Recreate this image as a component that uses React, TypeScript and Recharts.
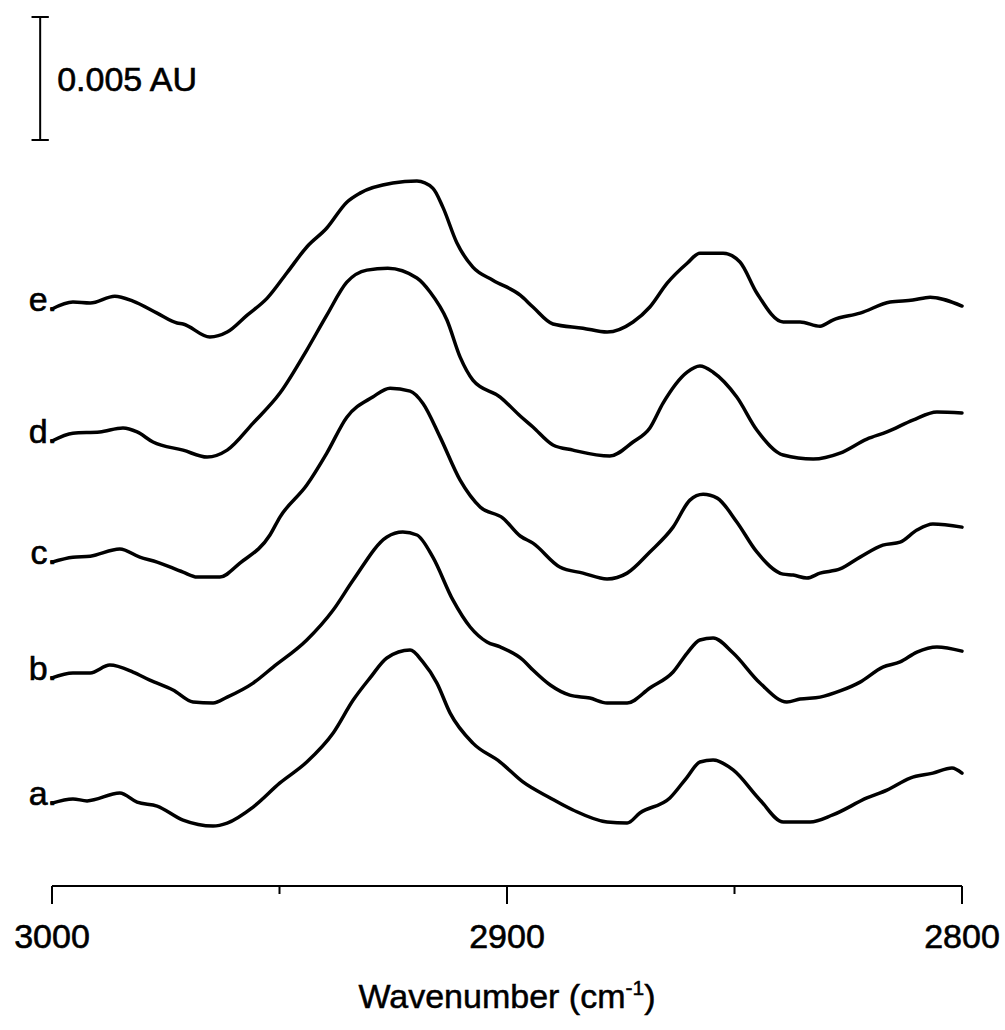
import { Label, Line, LineChart, ReferenceLine, XAxis, YAxis } from 'recharts';

const FONT = '"Liberation Sans", Arial, Helvetica, sans-serif';

// [wavenumber cm-1, absorbance in mAU, stacked offsets included]
const spectrumA: [number, number][] = [
  [3000, 3.37], [2995.4, 3.54], [2992.3, 3.46], [2985.1, 3.78], [2981.3, 3.41],
  [2976.9, 3.25], [2971.2, 2.68], [2964.6, 2.44], [2961.5, 2.56], [2955.8, 3.21],
  [2949.9, 4.19], [2944.0, 5.04], [2938.2, 6.22], [2933.8, 7.56], [2930.1, 8.46],
  [2926.4, 9.27], [2921.3, 9.59], [2918.5, 9.11], [2915.4, 8.25], [2912.5, 7.03],
  [2907.5, 5.81], [2901.5, 5.04], [2896.5, 4.23], [2890.5, 3.58], [2885.5, 3.09],
  [2878.0, 2.6], [2873.6, 2.56], [2870.8, 2.97], [2864.2, 3.58], [2860.4, 4.43],
  [2857.6, 5.04], [2854.7, 5.12], [2850.3, 4.72], [2844.4, 3.5], [2839.3, 2.6],
  [2833.4, 2.6], [2828.4, 2.89], [2820.9, 3.58], [2816.5, 3.9], [2811.4, 4.39],
  [2806.4, 4.59], [2802.2, 4.8], [2800, 4.59],
];

const spectrumB: [number, number][] = [
  [3000, 8.46], [2995.4, 8.66], [2991.6, 8.66], [2987.3, 8.98], [2982.2, 8.7],
  [2978.5, 8.37], [2973.4, 7.97], [2969.0, 7.48], [2964.6, 7.44], [2961.5, 7.68],
  [2955.8, 8.25], [2951.4, 8.9], [2944.0, 10.0], [2938.2, 11.22], [2933.8, 12.44],
  [2926.4, 14.19], [2922.9, 14.39], [2919.8, 14.27], [2916.3, 13.37], [2911.9, 11.63],
  [2908.1, 10.53], [2904.4, 9.92], [2901.5, 9.72], [2896.5, 9.19], [2894.3, 8.78],
  [2890.5, 8.17], [2886.2, 7.76], [2881.8, 7.64], [2878.0, 7.44], [2873.6, 7.44],
  [2868.6, 8.05], [2863.5, 8.7], [2860.4, 9.47], [2857.6, 10.0], [2854.7, 10.08],
  [2850.3, 9.47], [2844.4, 8.25], [2838.5, 7.48], [2835.6, 7.6], [2831.2, 7.68],
  [2826.8, 7.93], [2822.4, 8.29], [2817.4, 8.9], [2813.6, 9.11], [2809.9, 9.51],
  [2805.5, 9.72], [2800, 9.55],
];

const spectrumC: [number, number][] = [
  [3000, 13.17], [2995.4, 13.37], [2991.6, 13.41], [2985.1, 13.7], [2980.7, 13.37],
  [2976.9, 13.17], [2971.2, 12.76], [2968.1, 12.56], [2963.1, 12.56], [2958.7, 13.13],
  [2952.1, 14.27], [2949.9, 15.0], [2944.0, 16.3], [2939.6, 17.6], [2935.2, 19.06],
  [2929.5, 19.88], [2925.7, 20.24], [2921.3, 20.12], [2918.5, 19.63], [2914.7, 18.25],
  [2910.3, 16.5], [2905.9, 15.41], [2900.9, 14.96], [2897.1, 14.23], [2894.3, 13.94],
  [2888.4, 12.97], [2883.3, 12.72], [2878.0, 12.48], [2873.6, 12.72], [2868.6, 13.58],
  [2863.5, 14.59], [2859.8, 15.69], [2856.9, 15.93], [2853.8, 15.77], [2849.5, 14.8],
  [2845.1, 13.58], [2839.3, 12.68], [2837.1, 12.64], [2834.1, 12.52], [2831.2, 12.72],
  [2826.8, 12.89], [2822.4, 13.37], [2817.4, 13.86], [2813.6, 13.98], [2809.9, 14.47],
  [2806.4, 14.72], [2800, 14.59],
];

const spectrumD: [number, number][] = [
  [3000, 18.09], [2995.4, 18.41], [2989.5, 18.46], [2984.4, 18.62], [2981.3, 18.46],
  [2977.8, 18.05], [2971.2, 17.72], [2965.9, 17.44], [2961.5, 17.72], [2955.8, 18.82],
  [2949.9, 20.04], [2944.0, 21.79], [2939.6, 23.21], [2935.2, 24.55], [2930.8, 25.04],
  [2926.2, 25.12], [2919.8, 24.72], [2916.9, 24.15], [2913.2, 23.01], [2910.3, 21.5],
  [2907.5, 20.57], [2901.5, 19.88], [2897.1, 19.11], [2894.3, 18.66], [2889.9, 17.93],
  [2885.5, 17.72], [2877.4, 17.48], [2872.3, 18.05], [2868.6, 18.62], [2865.7, 19.63],
  [2860.4, 20.89], [2857.6, 21.14], [2854.7, 20.89], [2849.5, 19.88], [2845.1, 18.54],
  [2839.3, 17.52], [2832.7, 17.36], [2826.8, 17.6], [2820.9, 18.17], [2816.5, 18.46],
  [2810.8, 18.94], [2805.5, 19.27], [2800, 19.23],
];

const spectrumE: [number, number][] = [
  [3000, 23.46], [2995.4, 23.74], [2991.6, 23.7], [2986.2, 23.98], [2982.2, 23.78],
  [2976.9, 23.29], [2972.5, 22.89], [2971.2, 22.85], [2965.3, 22.32], [2961.5, 22.52],
  [2957.1, 23.21], [2952.7, 23.9], [2948.4, 24.92], [2944.0, 25.98], [2939.6, 26.75],
  [2935.2, 27.8], [2932.3, 28.17], [2925.1, 28.58], [2919.8, 28.66], [2916.3, 28.37],
  [2914.1, 27.6], [2911.0, 26.14], [2907.5, 25.16], [2903.1, 24.63], [2897.1, 24.02],
  [2894.3, 23.54], [2889.9, 22.85], [2883.3, 22.68], [2878.0, 22.52], [2872.3, 22.93],
  [2868.6, 23.54], [2864.8, 24.51], [2860.4, 25.32], [2857.6, 25.73], [2852.5, 25.73],
  [2848.8, 25.37], [2845.1, 24.11], [2839.3, 22.93], [2835.6, 22.93], [2831.2, 22.76],
  [2828.4, 23.01], [2822.4, 23.29], [2815.8, 23.74], [2810.8, 23.82], [2807.0, 23.94],
  [2800, 23.58],
];

const seriesNames = ['a.', 'b.', 'c.', 'd.', 'e.'];
const seriesPoints = [spectrumA, spectrumB, spectrumC, spectrumD, spectrumE];

const xTicks = [3000, 2950, 2900, 2850, 2800];
const xLabelled = [3000, 2900, 2800];

// scale bar: 5 mAU = 0.005 AU
const scaleBarSpan = 5;
const scaleBarLabel = '0.005 AU';
const yMax = 35.33;

const SCALE_X = 3002.6;
const CAP_HALF = 1.9;

function WavenumberTick(props: any) {
  const { x, y, payload } = props;
  const major = xLabelled.includes(payload.value);
  return (
    <g>
      <line x1={x} x2={x} y1={y} y2={y + (major ? 18 : 8)} stroke="#000" strokeWidth={2} />
      {major && (
        <text
          x={x}
          y={y + 62}
          textAnchor="middle"
          fontSize={34}
          fontFamily={FONT}
          fill="#000"
          stroke="#000"
          strokeWidth={0.6}
        >
          {payload.value}
        </text>
      )}
    </g>
  );
}

function AxisTitle(props: any) {
  const vb = props.viewBox || {};
  const cx = vb.x + vb.width / 2;
  return (
    <text
      x={cx}
      y={vb.y + 122}
      textAnchor="middle"
      fontSize={34}
      fontFamily={FONT}
      fill="#000"
      stroke="#000"
      strokeWidth={0.5}
    >
      Wavenumber (cm
      <tspan dy={-13} fontSize={21}>-1</tspan>
      <tspan dy={13}>)</tspan>
    </text>
  );
}

function seriesLabel(name: string) {
  return (props: any) => {
    if (props.index !== 0) return null;
    const px = props.viewBox?.x ?? props.x;
    const py = props.viewBox?.y ?? props.y;
    return (
      <text
        x={px + 5}
        y={py + 2}
        textAnchor="end"
        fontSize={34}
        fontFamily={FONT}
        fill="#000"
        stroke="#000"
        strokeWidth={0.6}
      >
        {name}
      </text>
    );
  };
}

export default function App() {
  return (
    <div style={{ width: 1005, height: 1030, background: '#fff' }}>
      <style>{'body{margin:0;background:#fff}'}</style>
      <LineChart width={1005} height={1030} margin={{ top: 17, right: 43, left: 52, bottom: 0 }}>
        <XAxis
          dataKey="wn"
          type="number"
          domain={[2800, 3000]}
          reversed
          ticks={xTicks}
          interval={0}
          height={144}
          tickLine={false}
          tickSize={0}
          tickMargin={0}
          tick={<WavenumberTick />}
          axisLine={{ stroke: '#000', strokeWidth: 2 }}
        >
          <Label content={AxisTitle} />
        </XAxis>
        <YAxis hide type="number" domain={[0, yMax]} />
        {seriesPoints.map((pts, i) => (
          <Line
            key={seriesNames[i]}
            data={pts.map(([wn, mAU]) => ({ wn, mAU }))}
            dataKey="mAU"
            type="monotone"
            stroke="#000"
            strokeWidth={3.5}
            strokeLinejoin="round"
            strokeLinecap="round"
            dot={false}
            activeDot={false}
            isAnimationActive={false}
            label={seriesLabel(seriesNames[i])}
          />
        ))}
        <ReferenceLine
          segment={[
            { x: SCALE_X, y: yMax - scaleBarSpan },
            { x: SCALE_X, y: yMax },
          ]}
          stroke="#000"
          strokeWidth={2}
          ifOverflow="visible"
          label={{
            value: scaleBarLabel,
            position: 'right',
            offset: 17,
            fill: '#000',
            stroke: '#000',
            strokeWidth: 0.6,
            fontSize: 34,
            fontFamily: FONT,
          }}
        />
        <ReferenceLine
          segment={[
            { x: SCALE_X + CAP_HALF, y: yMax },
            { x: SCALE_X - CAP_HALF, y: yMax },
          ]}
          stroke="#000"
          strokeWidth={2}
          ifOverflow="visible"
        />
        <ReferenceLine
          segment={[
            { x: SCALE_X + CAP_HALF, y: yMax - scaleBarSpan },
            { x: SCALE_X - CAP_HALF, y: yMax - scaleBarSpan },
          ]}
          stroke="#000"
          strokeWidth={2}
          ifOverflow="visible"
        />
      </LineChart>
    </div>
  );
}
